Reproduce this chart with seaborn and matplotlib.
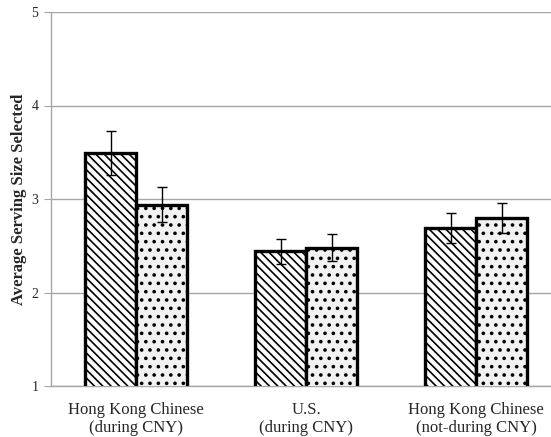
import matplotlib
matplotlib.use("Agg")
import matplotlib.pyplot as plt
from matplotlib.container import BarContainer
import seaborn as sns
import pandas as pd
import numpy as np

categories = ["Hong Kong Chinese\n(during CNY)", "U.S.\n(during CNY)", "Hong Kong Chinese\n(not-during CNY)"]
conditions = ["Condition A", "Condition B"]
values_a = [3.49, 2.44, 2.69]
values_b = [2.94, 2.48, 2.80]
err_a = [0.235, 0.13, 0.16]
err_b = [0.185, 0.145, 0.16]

df = pd.DataFrame({
    "group": categories * 2,
    "condition": [conditions[0]] * 3 + [conditions[1]] * 3,
    "value": values_a + values_b,
})

sns.set_style("white")
plt.rcParams["font.family"] = ["Liberation Serif", "DejaVu Serif"]
plt.rcParams["hatch.linewidth"] = 1.2
plt.rcParams["hatch.color"] = "black"

fig = plt.figure(figsize=(5.51, 4.37), dpi=100)
ax = fig.add_axes([51 / 551, (437 - 386) / 437, 1 - 51 / 551, (386 - 12) / 437])

sns.barplot(data=df, x="group", y="value", hue="condition", order=categories,
            hue_order=conditions, palette=["white", "#f2f2f2"], errorbar=None,
            width=0.6, edgecolor="black", linewidth=2.4, legend=False, ax=ax,
            zorder=3)

hatches = ["\\\\\\\\", ".."]
hatch_lw = [1.2, 1.4]
bar_containers = [c for c in ax.containers if isinstance(c, BarContainer)]
for ci, cont in enumerate(bar_containers):
    for bar in cont.patches:
        bar.set_hatch(hatches[ci])
        if hasattr(bar, "set_hatch_linewidth"):
            bar.set_hatch_linewidth(hatch_lw[ci])
    errs = err_a if ci == 0 else err_b
    vals = values_a if ci == 0 else values_b
    xs = [b.get_x() + b.get_width() / 2 for b in cont.patches]
    ax.errorbar(xs, vals, yerr=errs, fmt="none", ecolor="black", elinewidth=1.0,
                capsize=3.5, capthick=1.0, zorder=5)

ax.set_ylim(1, 5)
ax.set_xlim(-0.5, 2.44)
ax.set_yticks([1, 2, 3, 4, 5])
ax.yaxis.grid(True, color="#a6a6a6", linewidth=1.0, zorder=0)
ax.set_axisbelow(True)
for s in ["top", "right"]:
    ax.spines[s].set_visible(False)
ax.spines["left"].set_color("#a6a6a6")
ax.spines["bottom"].set_color("#a6a6a6")
ax.spines["left"].set_linewidth(1.0)
ax.spines["bottom"].set_linewidth(1.0)
ax.tick_params(axis="y", which="both", left=True, length=5, color="#a6a6a6",
               labelsize=10, pad=4)
ax.tick_params(axis="x", bottom=False, labelsize=12, pad=8)
ax.set_xlabel("")
ax.set_ylabel("Average Serving Size Selected", fontsize=12, fontweight="bold", labelpad=3)

fig.savefig("out.png", dpi=100)
